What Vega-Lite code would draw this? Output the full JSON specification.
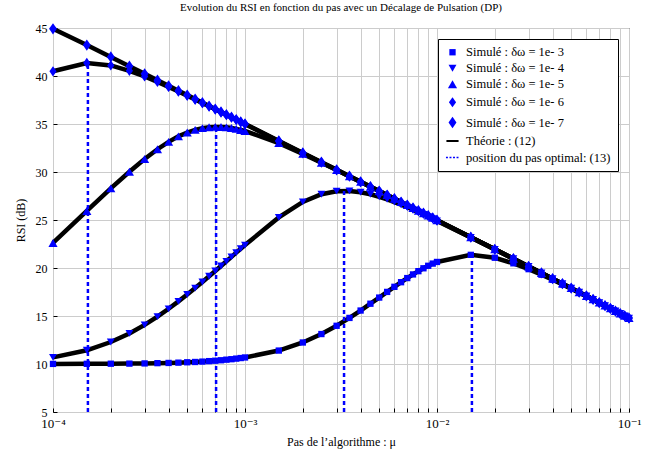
{
  "$schema": "https://vega.github.io/schema/vega-lite/v6.json",
  "width": 576,
  "height": 384,
  "autosize": {"type": "none"},
  "padding": {"left": 53, "top": 28, "right": 21, "bottom": 42},
  "background": "white",
  "title": {"text": "Evolution du RSI en fonction du pas avec un Décalage de Pulsation (DP)", "font": "Liberation Serif, DejaVu Serif, serif", "fontSize": 11, "fontWeight": "normal", "color": "black", "offset": 7, "anchor": "middle"},
  "config": {
    "view": {"stroke": "black", "strokeWidth": 1},
    "axis": {"labelFont": "Liberation Serif, DejaVu Serif, serif", "titleFont": "Liberation Serif, DejaVu Serif, serif", "labelFontSize": 12, "titleFontSize": 12, "titleFontWeight": "normal", "labelColor": "black", "titleColor": "black", "gridColor": "#cccccc", "gridOpacity": 1, "gridWidth": 1, "domain": false, "tickColor": "black", "tickSize": -4, "labelFlush": false}
  },
  "datasets": {
    "opt": [
      {"mu": 0.000152, "lo": 5, "top": 41.37},
      {"mu": 0.000707, "lo": 5, "top": 34.70},
      {"mu": 0.00328, "lo": 5, "top": 28.04},
      {"mu": 0.0152, "lo": 5, "top": 21.37}
    ],
    "sim": [
      {"mu":0.0001,"rsi":10.01,"d":"1e- 3"},{"mu":0.00015,"rsi":10.02,"d":"1e- 3"},{"mu":0.0002,"rsi":10.03,"d":"1e- 3"},{"mu":0.00025,"rsi":10.04,"d":"1e- 3"},{"mu":0.0003,"rsi":10.06,"d":"1e- 3"},{"mu":0.00035,"rsi":10.09,"d":"1e- 3"},{"mu":0.0004,"rsi":10.11,"d":"1e- 3"},{"mu":0.00045,"rsi":10.14,"d":"1e- 3"},{"mu":0.0005,"rsi":10.18,"d":"1e- 3"},{"mu":0.00055,"rsi":10.21,"d":"1e- 3"},{"mu":0.0006,"rsi":10.25,"d":"1e- 3"},{"mu":0.00065,"rsi":10.30,"d":"1e- 3"},{"mu":0.0007,"rsi":10.34,"d":"1e- 3"},{"mu":0.00075,"rsi":10.39,"d":"1e- 3"},{"mu":0.0008,"rsi":10.45,"d":"1e- 3"},{"mu":0.00085,"rsi":10.50,"d":"1e- 3"},{"mu":0.0009,"rsi":10.56,"d":"1e- 3"},{"mu":0.00095,"rsi":10.62,"d":"1e- 3"},
      {"mu":0.001,"rsi":10.68,"d":"1e- 3"},{"mu":0.0015,"rsi":11.40,"d":"1e- 3"},{"mu":0.002,"rsi":12.24,"d":"1e- 3"},{"mu":0.0025,"rsi":13.12,"d":"1e- 3"},{"mu":0.003,"rsi":13.98,"d":"1e- 3"},{"mu":0.0035,"rsi":14.80,"d":"1e- 3"},{"mu":0.004,"rsi":15.57,"d":"1e- 3"},{"mu":0.0045,"rsi":16.28,"d":"1e- 3"},{"mu":0.005,"rsi":16.92,"d":"1e- 3"},{"mu":0.0055,"rsi":17.51,"d":"1e- 3"},{"mu":0.006,"rsi":18.04,"d":"1e- 3"},{"mu":0.0065,"rsi":18.52,"d":"1e- 3"},{"mu":0.007,"rsi":18.95,"d":"1e- 3"},{"mu":0.0075,"rsi":19.33,"d":"1e- 3"},{"mu":0.008,"rsi":19.67,"d":"1e- 3"},{"mu":0.0085,"rsi":19.97,"d":"1e- 3"},{"mu":0.009,"rsi":20.23,"d":"1e- 3"},{"mu":0.0095,"rsi":20.46,"d":"1e- 3"},
      {"mu":0.01,"rsi":20.63,"d":"1e- 3"},{"mu":0.015,"rsi":21.37,"d":"1e- 3"},{"mu":0.02,"rsi":21.07,"d":"1e- 3"},{"mu":0.025,"rsi":20.49,"d":"1e- 3"},{"mu":0.03,"rsi":19.88,"d":"1e- 3"},{"mu":0.035,"rsi":19.30,"d":"1e- 3"},{"mu":0.04,"rsi":18.77,"d":"1e- 3"},{"mu":0.045,"rsi":18.28,"d":"1e- 3"},{"mu":0.05,"rsi":17.84,"d":"1e- 3"},{"mu":0.055,"rsi":17.43,"d":"1e- 3"},{"mu":0.06,"rsi":17.05,"d":"1e- 3"},{"mu":0.065,"rsi":16.70,"d":"1e- 3"},{"mu":0.07,"rsi":16.37,"d":"1e- 3"},{"mu":0.075,"rsi":16.06,"d":"1e- 3"},{"mu":0.08,"rsi":15.77,"d":"1e- 3"},{"mu":0.085,"rsi":15.51,"d":"1e- 3"},{"mu":0.09,"rsi":15.25,"d":"1e- 3"},{"mu":0.095,"rsi":15.00,"d":"1e- 3"},{"mu":0.1,"rsi":14.77,"d":"1e- 3"},

      {"mu":0.0001,"rsi":10.69,"d":"1e- 4"},{"mu":0.00015,"rsi":11.43,"d":"1e- 4"},{"mu":0.0002,"rsi":12.29,"d":"1e- 4"},{"mu":0.00025,"rsi":13.18,"d":"1e- 4"},{"mu":0.0003,"rsi":14.08,"d":"1e- 4"},{"mu":0.00035,"rsi":14.94,"d":"1e- 4"},{"mu":0.0004,"rsi":15.75,"d":"1e- 4"},{"mu":0.00045,"rsi":16.52,"d":"1e- 4"},{"mu":0.0005,"rsi":17.24,"d":"1e- 4"},{"mu":0.00055,"rsi":17.91,"d":"1e- 4"},{"mu":0.0006,"rsi":18.54,"d":"1e- 4"},{"mu":0.00065,"rsi":19.14,"d":"1e- 4"},{"mu":0.0007,"rsi":19.69,"d":"1e- 4"},{"mu":0.00075,"rsi":20.21,"d":"1e- 4"},{"mu":0.0008,"rsi":20.70,"d":"1e- 4"},{"mu":0.00085,"rsi":21.16,"d":"1e- 4"},{"mu":0.0009,"rsi":21.60,"d":"1e- 4"},{"mu":0.00095,"rsi":22.01,"d":"1e- 4"},
      {"mu":0.001,"rsi":22.39,"d":"1e- 4"},{"mu":0.0015,"rsi":25.27,"d":"1e- 4"},{"mu":0.002,"rsi":26.88,"d":"1e- 4"},{"mu":0.0025,"rsi":27.68,"d":"1e- 4"},{"mu":0.003,"rsi":28.00,"d":"1e- 4"},{"mu":0.0035,"rsi":28.03,"d":"1e- 4"},{"mu":0.004,"rsi":27.89,"d":"1e- 4"},{"mu":0.0045,"rsi":27.68,"d":"1e- 4"},{"mu":0.005,"rsi":27.42,"d":"1e- 4"},{"mu":0.0055,"rsi":27.15,"d":"1e- 4"},{"mu":0.006,"rsi":26.87,"d":"1e- 4"},{"mu":0.0065,"rsi":26.59,"d":"1e- 4"},{"mu":0.007,"rsi":26.33,"d":"1e- 4"},{"mu":0.0075,"rsi":26.07,"d":"1e- 4"},{"mu":0.008,"rsi":25.82,"d":"1e- 4"},{"mu":0.0085,"rsi":25.58,"d":"1e- 4"},{"mu":0.009,"rsi":25.35,"d":"1e- 4"},{"mu":0.0095,"rsi":25.13,"d":"1e- 4"},
      {"mu":0.01,"rsi":24.90,"d":"1e- 4"},{"mu":0.015,"rsi":23.19,"d":"1e- 4"},{"mu":0.02,"rsi":21.94,"d":"1e- 4"},{"mu":0.025,"rsi":20.97,"d":"1e- 4"},{"mu":0.03,"rsi":20.16,"d":"1e- 4"},{"mu":0.035,"rsi":19.48,"d":"1e- 4"},{"mu":0.04,"rsi":18.89,"d":"1e- 4"},{"mu":0.045,"rsi":18.37,"d":"1e- 4"},{"mu":0.05,"rsi":17.90,"d":"1e- 4"},{"mu":0.055,"rsi":17.48,"d":"1e- 4"},{"mu":0.06,"rsi":17.09,"d":"1e- 4"},{"mu":0.065,"rsi":16.73,"d":"1e- 4"},{"mu":0.07,"rsi":16.39,"d":"1e- 4"},{"mu":0.075,"rsi":16.08,"d":"1e- 4"},{"mu":0.08,"rsi":15.79,"d":"1e- 4"},{"mu":0.085,"rsi":15.52,"d":"1e- 4"},{"mu":0.09,"rsi":15.26,"d":"1e- 4"},{"mu":0.095,"rsi":15.01,"d":"1e- 4"},{"mu":0.1,"rsi":14.78,"d":"1e- 4"},

      {"mu":0.0001,"rsi":22.61,"d":"1e- 5"},{"mu":0.00015,"rsi":25.94,"d":"1e- 5"},{"mu":0.0002,"rsi":28.29,"d":"1e- 5"},{"mu":0.00025,"rsi":30.03,"d":"1e- 5"},{"mu":0.0003,"rsi":31.36,"d":"1e- 5"},{"mu":0.00035,"rsi":32.37,"d":"1e- 5"},{"mu":0.0004,"rsi":33.14,"d":"1e- 5"},{"mu":0.00045,"rsi":33.71,"d":"1e- 5"},{"mu":0.0005,"rsi":34.11,"d":"1e- 5"},{"mu":0.00055,"rsi":34.39,"d":"1e- 5"},{"mu":0.0006,"rsi":34.57,"d":"1e- 5"},{"mu":0.00065,"rsi":34.66,"d":"1e- 5"},{"mu":0.0007,"rsi":34.70,"d":"1e- 5"},{"mu":0.00075,"rsi":34.69,"d":"1e- 5"},{"mu":0.0008,"rsi":34.65,"d":"1e- 5"},{"mu":0.00085,"rsi":34.58,"d":"1e- 5"},{"mu":0.0009,"rsi":34.49,"d":"1e- 5"},{"mu":0.00095,"rsi":34.38,"d":"1e- 5"},
      {"mu":0.001,"rsi":34.27,"d":"1e- 5"},{"mu":0.0015,"rsi":33.01,"d":"1e- 5"},{"mu":0.002,"rsi":31.89,"d":"1e- 5"},{"mu":0.0025,"rsi":30.97,"d":"1e- 5"},{"mu":0.003,"rsi":30.20,"d":"1e- 5"},{"mu":0.0035,"rsi":29.54,"d":"1e- 5"},{"mu":0.004,"rsi":28.97,"d":"1e- 5"},{"mu":0.0045,"rsi":28.46,"d":"1e- 5"},{"mu":0.005,"rsi":28.01,"d":"1e- 5"},{"mu":0.0055,"rsi":27.60,"d":"1e- 5"},{"mu":0.006,"rsi":27.22,"d":"1e- 5"},{"mu":0.0065,"rsi":26.87,"d":"1e- 5"},{"mu":0.007,"rsi":26.55,"d":"1e- 5"},{"mu":0.0075,"rsi":26.25,"d":"1e- 5"},{"mu":0.008,"rsi":25.97,"d":"1e- 5"},{"mu":0.0085,"rsi":25.71,"d":"1e- 5"},{"mu":0.009,"rsi":25.46,"d":"1e- 5"},{"mu":0.0095,"rsi":25.22,"d":"1e- 5"},
      {"mu":0.01,"rsi":24.98,"d":"1e- 5"},{"mu":0.015,"rsi":23.21,"d":"1e- 5"},{"mu":0.02,"rsi":21.95,"d":"1e- 5"},{"mu":0.025,"rsi":20.97,"d":"1e- 5"},{"mu":0.03,"rsi":20.16,"d":"1e- 5"},{"mu":0.035,"rsi":19.48,"d":"1e- 5"},{"mu":0.04,"rsi":18.89,"d":"1e- 5"},{"mu":0.045,"rsi":18.37,"d":"1e- 5"},{"mu":0.05,"rsi":17.90,"d":"1e- 5"},{"mu":0.055,"rsi":17.48,"d":"1e- 5"},{"mu":0.06,"rsi":17.09,"d":"1e- 5"},{"mu":0.065,"rsi":16.73,"d":"1e- 5"},{"mu":0.07,"rsi":16.39,"d":"1e- 5"},{"mu":0.075,"rsi":16.08,"d":"1e- 5"},{"mu":0.08,"rsi":15.79,"d":"1e- 5"},{"mu":0.085,"rsi":15.52,"d":"1e- 5"},{"mu":0.09,"rsi":15.26,"d":"1e- 5"},{"mu":0.095,"rsi":15.01,"d":"1e- 5"},{"mu":0.1,"rsi":14.78,"d":"1e- 5"},

      {"mu":0.0001,"rsi":40.49,"d":"1e- 6"},{"mu":0.00015,"rsi":41.36,"d":"1e- 6"},{"mu":0.0002,"rsi":41.10,"d":"1e- 6"},{"mu":0.00025,"rsi":40.54,"d":"1e- 6"},{"mu":0.0003,"rsi":39.95,"d":"1e- 6"},{"mu":0.00035,"rsi":39.38,"d":"1e- 6"},{"mu":0.0004,"rsi":38.86,"d":"1e- 6"},{"mu":0.00045,"rsi":38.38,"d":"1e- 6"},{"mu":0.0005,"rsi":37.95,"d":"1e- 6"},{"mu":0.00055,"rsi":37.55,"d":"1e- 6"},{"mu":0.0006,"rsi":37.18,"d":"1e- 6"},{"mu":0.00065,"rsi":36.84,"d":"1e- 6"},{"mu":0.0007,"rsi":36.53,"d":"1e- 6"},{"mu":0.00075,"rsi":36.23,"d":"1e- 6"},{"mu":0.0008,"rsi":35.95,"d":"1e- 6"},{"mu":0.00085,"rsi":35.70,"d":"1e- 6"},{"mu":0.0009,"rsi":35.45,"d":"1e- 6"},{"mu":0.00095,"rsi":35.21,"d":"1e- 6"},
      {"mu":0.001,"rsi":34.99,"d":"1e- 6"},{"mu":0.0015,"rsi":33.24,"d":"1e- 6"},{"mu":0.002,"rsi":31.99,"d":"1e- 6"},{"mu":0.0025,"rsi":31.02,"d":"1e- 6"},{"mu":0.003,"rsi":30.23,"d":"1e- 6"},{"mu":0.0035,"rsi":29.56,"d":"1e- 6"},{"mu":0.004,"rsi":28.98,"d":"1e- 6"},{"mu":0.0045,"rsi":28.47,"d":"1e- 6"},{"mu":0.005,"rsi":28.01,"d":"1e- 6"},{"mu":0.0055,"rsi":27.60,"d":"1e- 6"},{"mu":0.006,"rsi":27.22,"d":"1e- 6"},{"mu":0.0065,"rsi":26.87,"d":"1e- 6"},{"mu":0.007,"rsi":26.55,"d":"1e- 6"},{"mu":0.0075,"rsi":26.25,"d":"1e- 6"},{"mu":0.008,"rsi":25.97,"d":"1e- 6"},{"mu":0.0085,"rsi":25.71,"d":"1e- 6"},{"mu":0.009,"rsi":25.46,"d":"1e- 6"},{"mu":0.0095,"rsi":25.22,"d":"1e- 6"},
      {"mu":0.01,"rsi":24.98,"d":"1e- 6"},{"mu":0.015,"rsi":23.21,"d":"1e- 6"},{"mu":0.02,"rsi":21.95,"d":"1e- 6"},{"mu":0.025,"rsi":20.97,"d":"1e- 6"},{"mu":0.03,"rsi":20.16,"d":"1e- 6"},{"mu":0.035,"rsi":19.48,"d":"1e- 6"},{"mu":0.04,"rsi":18.89,"d":"1e- 6"},{"mu":0.045,"rsi":18.37,"d":"1e- 6"},{"mu":0.05,"rsi":17.90,"d":"1e- 6"},{"mu":0.055,"rsi":17.48,"d":"1e- 6"},{"mu":0.06,"rsi":17.09,"d":"1e- 6"},{"mu":0.065,"rsi":16.73,"d":"1e- 6"},{"mu":0.07,"rsi":16.39,"d":"1e- 6"},{"mu":0.075,"rsi":16.08,"d":"1e- 6"},{"mu":0.08,"rsi":15.79,"d":"1e- 6"},{"mu":0.085,"rsi":15.52,"d":"1e- 6"},{"mu":0.09,"rsi":15.26,"d":"1e- 6"},{"mu":0.095,"rsi":15.01,"d":"1e- 6"},{"mu":0.1,"rsi":14.78,"d":"1e- 6"},

      {"mu":0.0001,"rsi":44.92,"d":"1e- 7"},{"mu":0.00015,"rsi":43.22,"d":"1e- 7"},{"mu":0.0002,"rsi":41.98,"d":"1e- 7"},{"mu":0.00025,"rsi":41.02,"d":"1e- 7"},{"mu":0.0003,"rsi":40.23,"d":"1e- 7"},{"mu":0.00035,"rsi":39.56,"d":"1e- 7"},{"mu":0.0004,"rsi":38.98,"d":"1e- 7"},{"mu":0.00045,"rsi":38.47,"d":"1e- 7"},{"mu":0.0005,"rsi":38.01,"d":"1e- 7"},{"mu":0.00055,"rsi":37.60,"d":"1e- 7"},{"mu":0.0006,"rsi":37.22,"d":"1e- 7"},{"mu":0.00065,"rsi":36.87,"d":"1e- 7"},{"mu":0.0007,"rsi":36.55,"d":"1e- 7"},{"mu":0.00075,"rsi":36.25,"d":"1e- 7"},{"mu":0.0008,"rsi":35.97,"d":"1e- 7"},{"mu":0.00085,"rsi":35.71,"d":"1e- 7"},{"mu":0.0009,"rsi":35.46,"d":"1e- 7"},{"mu":0.00095,"rsi":35.22,"d":"1e- 7"},
      {"mu":0.001,"rsi":35.00,"d":"1e- 7"},{"mu":0.0015,"rsi":33.24,"d":"1e- 7"},{"mu":0.002,"rsi":31.99,"d":"1e- 7"},{"mu":0.0025,"rsi":31.02,"d":"1e- 7"},{"mu":0.003,"rsi":30.23,"d":"1e- 7"},{"mu":0.0035,"rsi":29.56,"d":"1e- 7"},{"mu":0.004,"rsi":28.98,"d":"1e- 7"},{"mu":0.0045,"rsi":28.47,"d":"1e- 7"},{"mu":0.005,"rsi":28.01,"d":"1e- 7"},{"mu":0.0055,"rsi":27.60,"d":"1e- 7"},{"mu":0.006,"rsi":27.22,"d":"1e- 7"},{"mu":0.0065,"rsi":26.87,"d":"1e- 7"},{"mu":0.007,"rsi":26.55,"d":"1e- 7"},{"mu":0.0075,"rsi":26.25,"d":"1e- 7"},{"mu":0.008,"rsi":25.97,"d":"1e- 7"},{"mu":0.0085,"rsi":25.71,"d":"1e- 7"},{"mu":0.009,"rsi":25.46,"d":"1e- 7"},{"mu":0.0095,"rsi":25.22,"d":"1e- 7"},
      {"mu":0.01,"rsi":24.98,"d":"1e- 7"},{"mu":0.015,"rsi":23.21,"d":"1e- 7"},{"mu":0.02,"rsi":21.95,"d":"1e- 7"},{"mu":0.025,"rsi":20.97,"d":"1e- 7"},{"mu":0.03,"rsi":20.16,"d":"1e- 7"},{"mu":0.035,"rsi":19.48,"d":"1e- 7"},{"mu":0.04,"rsi":18.89,"d":"1e- 7"},{"mu":0.045,"rsi":18.37,"d":"1e- 7"},{"mu":0.05,"rsi":17.90,"d":"1e- 7"},{"mu":0.055,"rsi":17.48,"d":"1e- 7"},{"mu":0.06,"rsi":17.09,"d":"1e- 7"},{"mu":0.065,"rsi":16.73,"d":"1e- 7"},{"mu":0.07,"rsi":16.39,"d":"1e- 7"},{"mu":0.075,"rsi":16.08,"d":"1e- 7"},{"mu":0.08,"rsi":15.79,"d":"1e- 7"},{"mu":0.085,"rsi":15.52,"d":"1e- 7"},{"mu":0.09,"rsi":15.26,"d":"1e- 7"},{"mu":0.095,"rsi":15.01,"d":"1e- 7"},{"mu":0.1,"rsi":14.78,"d":"1e- 7"}
    ]
  },
  "layer": [
    {
      "data": {"name": "sim"},
      "mark": {"type": "line", "strokeWidth": 4.5, "color": "black", "clip": false},
      "encoding": {
        "x": {"field": "mu", "type": "quantitative", "scale": {"type": "log", "domain": [0.0001, 0.1], "nice": false},
          "axis": {"orient": "bottom", "title": "Pas de l’algorithme : μ", "titlePadding": 6, "labelPadding": 9, "labelFontSize": 13,
            "values": [0.0001,0.0002,0.0003,0.0004,0.0005,0.0006,0.0007,0.0008,0.0009,0.001,0.002,0.003,0.004,0.005,0.006,0.007,0.008,0.009,0.01,0.02,0.03,0.04,0.05,0.06,0.07,0.08,0.09,0.1],
            "labelExpr": "datum.value == 0.0001 ? '10⁻⁴' : datum.value == 0.001 ? '10⁻³' : datum.value == 0.01 ? '10⁻²' : datum.value == 0.1 ? '10⁻¹' : ''"}},
        "y": {"field": "rsi", "type": "quantitative", "scale": {"domain": [5, 45], "nice": false, "zero": false},
          "axis": {"orient": "left", "title": "RSI (dB)", "values": [5,10,15,20,25,30,35,40,45], "labelPadding": 10, "titlePadding": 8}},
        "detail": {"field": "d", "type": "nominal"}
      }
    },
    {
      "data": {"name": "opt"},
      "mark": {"type": "rule", "color": "#0000ff", "strokeWidth": 2.5, "strokeDash": [4, 3]},
      "encoding": {
        "x": {"field": "mu", "type": "quantitative"},
        "y": {"field": "lo", "type": "quantitative"},
        "y2": {"field": "top"}
      }
    },
    {
      "data": {"name": "sim"},
      "mark": {"type": "point", "filled": true, "opacity": 1, "clip": false},
      "encoding": {
        "x": {"field": "mu", "type": "quantitative"},
        "y": {"field": "rsi", "type": "quantitative"},
        "color": {"field": "d", "type": "nominal",
          "scale": {"domain": ["1e- 3","1e- 4","1e- 5","1e- 6","1e- 7","Théorie : (12)","position du pas optimal: (13)"],
                    "range": ["#0000ff","#0000ff","#0000ff","#0000ff","#0000ff","#000000","#0000ff"]},
          "legend": {"title": null, "orient": "top-right", "offset": 11, "strokeColor": "black", "fillColor": "white", "padding": 7, "cornerRadius": 0,
            "labelFont": "Liberation Serif, DejaVu Serif, serif", "labelFontSize": 12.5, "labelColor": "black", "rowPadding": 2, "symbolOpacity": 1, "labelOffset": 6,
            "labelExpr": "datum.index < 5 ? 'Simulé : δω = ' + datum.label : datum.label"}},
        "shape": {"field": "d", "type": "nominal",
          "scale": {"domain": ["1e- 3","1e- 4","1e- 5","1e- 6","1e- 7","Théorie : (12)","position du pas optimal: (13)"],
                    "range": ["square","triangle-down","triangle-up","M0,-1L0.7,0L0,1L-0.7,0Z","M0,-1L0.7,0L0,1L-0.7,0Z",
                              "M-1,-0.16H1V0.16H-1Z",
                              "M-1,-0.1H-0.7V0.1H-1Z M-0.46,-0.1H-0.16V0.1H-0.46Z M0.08,-0.1H0.38V0.1H0.08Z M0.62,-0.1H0.92V0.1H0.62Z"]}},
        "size": {"field": "d", "type": "ordinal",
          "scale": {"domain": ["1e- 3","1e- 4","1e- 5","1e- 6","1e- 7","Théorie : (12)","position du pas optimal: (13)"],
                    "range": [40, 170, 170, 160, 55, 625, 625]}}
      }
    }
  ]
}
